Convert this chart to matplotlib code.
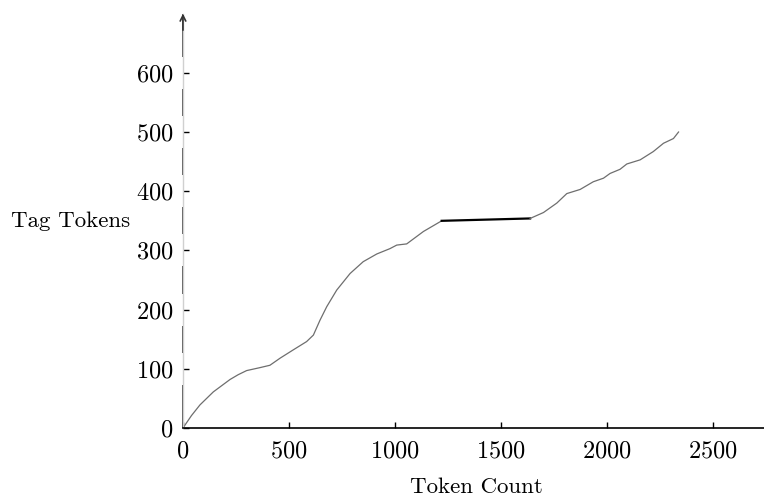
import numpy as np
import matplotlib.pyplot as plt
from matplotlib import transforms

plt.rcParams["font.family"] = "cmr10"
plt.rcParams["axes.formatter.use_mathtext"] = True
plt.rcParams["mathtext.fontset"] = "cm"

# cumulative tag tokens vs token count
token_count = [0, 40, 80, 143, 222, 260, 300, 363, 410, 458, 520, 583, 615,
               646, 678, 725, 788, 850, 914, 976, 1008, 1055, 1134, 1220]
tag_tokens = [0, 21, 39, 61, 82, 90, 97, 102, 106, 118, 132, 146, 157,
              182, 205, 233, 261, 281, 294, 303, 309, 311, 332, 350]

# flat stretch
flat_x = [1220, 1637]
flat_y = [350, 354]

late_x = [1637, 1700, 1763, 1810, 1873, 1935, 1983, 2014, 2061, 2093, 2156,
          2218, 2266, 2313, 2337]
late_y = [354, 364, 380, 396, 403, 416, 422, 430, 437, 446, 453, 467, 481,
          489, 500]

xticks = [0, 500, 1000, 1500, 2000, 2500]
yticks = [0, 100, 200, 300, 400, 500, 600]

fig = plt.figure(figsize=(7.64, 4.97), dpi=100)
ax = fig.add_axes([0.2395, 0.1388, 0.7605, 0.8338])

ax.plot(token_count, tag_tokens, color="#6e6e6e", lw=0.9)
ax.plot(flat_x, flat_y, color="black", lw=1.6)
ax.plot(late_x, late_y, color="#6e6e6e", lw=0.9)

ax.set_xlim(0, 2740)
ax.set_ylim(0, 700)
ax.set_xticks(xticks)
ax.set_yticks(yticks)
ax.tick_params(direction="in", length=4, width=1, labelsize=17.5)
ax.tick_params(axis="x", pad=9)
ax.tick_params(axis="y", pad=7)

for s in ["top", "right"]:
    ax.spines[s].set_visible(False)
ax.spines["bottom"].set_linewidth(1.2)
ax.spines["left"].set_color("#d0d0d0")
ax.spines["left"].set_linewidth(1.0)

# dark pieces of the y axis, broken around each tick
trans = transforms.blended_transform_factory(ax.transAxes, ax.transData)
gap = 27
for lo, hi in zip(yticks, yticks[1:] + [700]):
    start = lo if lo == 0 else lo + gap
    end = hi if hi == 700 else hi - gap
    ax.plot([0, 0], [start, end], color="#333333", lw=1.2,
            transform=trans, clip_on=False, solid_capstyle="butt")

ax.annotate("", xy=(0, 1.0), xytext=(0, 0.96), xycoords="axes fraction",
            arrowprops=dict(arrowstyle="->", color="#333333", lw=1.2,
                            mutation_scale=10, shrinkA=0, shrinkB=0))

ax.set_xlabel("Token Count", fontsize=16.5, va="center")
ax.xaxis.set_label_coords(0.505, -0.144)
ax.set_ylabel("Tag Tokens", fontsize=16.5, rotation=0, ha="center", va="center")
ax.yaxis.set_label_coords(-0.193, 0.50)

plt.savefig("out.png", dpi=100)
